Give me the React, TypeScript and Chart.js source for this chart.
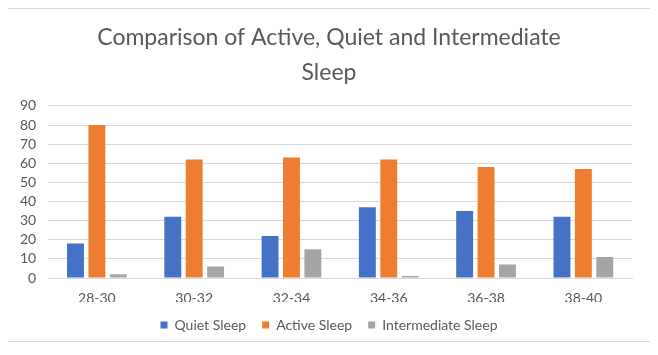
import React, { useEffect, useRef } from "react";
import { Chart, registerables } from "chart.js";

Chart.register(...registerables);

const categories = ["28-30", "30-32", "32-34", "34-36", "36-38", "38-40"];
const quietSleep = [18, 32, 22, 37, 35, 32];
const activeSleep = [80, 62, 63, 62, 58, 57];
const intermediateSleep = [2, 6, 15, 1, 7, 11];
const titleLines = ["Comparison of Active, Quiet and Intermediate", "Sleep"];

export default function App() {
  const ref = useRef<HTMLCanvasElement | null>(null);
  useEffect(() => {
    if (!ref.current) return;
    const font = "Lato, 'Noto Sans', sans-serif";
    const chart = new Chart(ref.current, {
      type: "bar",
      data: {
        labels: categories,
        datasets: [
          { label: "Quiet Sleep", data: quietSleep, backgroundColor: "#4472C4" },
          { label: "Active Sleep", data: activeSleep, backgroundColor: "#ED7D31" },
          { label: "Intermediate Sleep", data: intermediateSleep, backgroundColor: "#A5A5A5" },
        ],
      },
      options: {
        animation: false,
        responsive: false,
        maintainAspectRatio: false,
        datasets: { bar: { categoryPercentage: 0.66, barPercentage: 0.79 } },
        layout: { padding: { left: 0, right: 0, top: 0, bottom: -1 } },
        plugins: {
          title: {
            display: true,
            text: titleLines,
            color: "#595959",
            font: { family: font, size: 23, weight: "normal", lineHeight: 1.52 },
            padding: { top: 11, bottom: 16 },
          },
          legend: {
            position: "bottom",
            labels: {
              boxWidth: 7,
              boxHeight: 7,
              color: "#595959",
              font: { family: font, size: 14 },
              padding: 16,
            },
          },
          tooltip: { enabled: false },
        },
        scales: {
          x: {
            grid: { display: false },
            border: { display: true, color: "#d9d9d9" },
            ticks: { color: "#595959", font: { family: font, size: 14 }, padding: 4 },
            afterFit: (scale: any) => {
              scale.height = 24;
            },
          },
          y: {
            min: 0,
            max: 90,
            ticks: { stepSize: 10, autoSkip: false, color: "#595959", font: { family: font, size: 14 }, padding: 12 },
            grid: { color: "#d9d9d9", drawTicks: false },
            border: { display: false },
          },
          yRight: {
            type: "linear",
            position: "right",
            display: true,
            grid: { display: false, drawTicks: false },
            border: { display: false },
            ticks: { display: false },
            afterFit: (scale: any) => {
              scale.width = 18;
            },
          },
        },
      },
    });
    return () => chart.destroy();
  }, []);
  return (
    <div style={{ width: 642, height: 332, border: "1px solid #d9d9d9", marginLeft: -1, background: "#fff" }}>
      <canvas ref={ref} width={642} height={332} style={{ display: "block", width: 642, height: 332 }} />
    </div>
  );
}
